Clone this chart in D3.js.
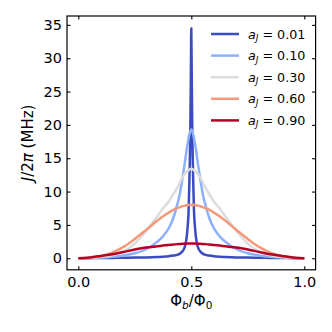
<!DOCTYPE html>
<html><head><meta charset="utf-8">
<script src="https://cdn.jsdelivr.net/npm/d3@7"></script>
<style>body{margin:0;background:#fff}</style>
</head><body><svg id="c" width="332" height="332"></svg>
<script>
const phi = [0, 0.05, 0.1, 0.15, 0.2, 0.25, 0.3, 0.35, 0.375, 0.4, 0.42, 0.44, 0.45, 0.46, 0.47, 0.475, 0.48, 0.484, 0.488, 0.491, 0.494, 0.496, 0.498, 0.5,
  0.502, 0.504, 0.506, 0.509, 0.512, 0.516, 0.52, 0.525, 0.53, 0.54, 0.55, 0.56, 0.58, 0.6, 0.625, 0.65, 0.7, 0.75, 0.8, 0.85, 0.9, 0.95, 1.0];
const J_a001 = [0, 0.015, 0.03, 0.05, 0.07, 0.1, 0.13, 0.19, 0.23, 0.3, 0.4, 0.55, 0.7, 1.0, 1.6, 2.2, 3.3, 4.8, 7.0, 10.8, 15.5, 20.5, 27, 34.5,
  27, 20.5, 15.5, 10.8, 7.0, 4.8, 3.3, 2.2, 1.6, 1.0, 0.7, 0.55, 0.4, 0.3, 0.23, 0.19, 0.13, 0.1, 0.07, 0.05, 0.03, 0.015, 0];
const J_a010 = [0, 0.03, 0.1, 0.22, 0.42, 0.75, 1.35, 2.5, 3.3, 4.5, 6.0, 8.3, 9.8, 11.8, 14.0, 15.2, 16.4, 17.2, 18.0, 18.5, 18.9, 19.1, 19.25, 19.3,
  19.25, 19.1, 18.9, 18.5, 18.0, 17.2, 16.4, 15.2, 14.0, 11.8, 9.8, 8.3, 6.0, 4.5, 3.3, 2.5, 1.35, 0.75, 0.42, 0.22, 0.1, 0.03, 0];
const J_a030 = [0, 0.04, 0.17, 0.45, 1.0, 2.2, 4.1, 6.3, 7.5, 8.5, 9.6, 10.7, 11.4, 12.1, 12.6, 12.8, 13.0, 13.1, 13.2, 13.3, 13.35, 13.38, 13.4, 13.4,
  13.4, 13.38, 13.35, 13.3, 13.2, 13.1, 13.0, 12.8, 12.6, 12.1, 11.4, 10.7, 9.6, 8.5, 7.5, 6.3, 4.1, 2.2, 1.0, 0.45, 0.17, 0.04, 0];
const J_a060 = [0, 0.08, 0.35, 0.85, 1.7, 2.9, 4.25, 5.65, 6.3, 6.85, 7.25, 7.55, 7.68, 7.8, 7.88, 7.92, 7.95, 7.97, 7.98, 7.99, 8.0, 8.0, 8.0, 8.0,
  8.0, 8.0, 8.0, 7.99, 7.98, 7.97, 7.95, 7.92, 7.88, 7.8, 7.68, 7.55, 7.25, 6.85, 6.3, 5.65, 4.25, 2.9, 1.7, 0.85, 0.35, 0.08, 0];
const J_a090 = [0, 0.12, 0.35, 0.6, 0.95, 1.3, 1.6, 1.8, 1.9, 2.0, 2.07, 2.12, 2.14, 2.16, 2.18, 2.19, 2.19, 2.2, 2.2, 2.2, 2.2, 2.2, 2.2, 2.2,
  2.2, 2.2, 2.2, 2.2, 2.2, 2.2, 2.19, 2.19, 2.18, 2.16, 2.14, 2.12, 2.07, 2.0, 1.9, 1.8, 1.6, 1.3, 0.95, 0.6, 0.35, 0.12, 0];
const aLabels = ["0.01", "0.10", "0.30", "0.60", "0.90"];
const seriesValues = [J_a001, J_a010, J_a030, J_a060, J_a090];
const colors = ["#3b4cc0", "#8db0fe", "#dddcdc", "#f49a7b", "#b40426"];
const xTicks = [0, 0.5, 1.0];
const yTicks = [0, 5, 10, 15, 20, 25, 30, 35];

const svg = d3.select("#c");
const L = 67, R = 315.6, T = 16, B = 269.8;
const x = d3.scaleLinear().domain([-0.05, 1.05]).range([L, R]);
const y = d3.scaleLinear().domain([-1.73, 36.33]).range([B, T]);
const font = "DejaVu Sans, sans-serif";

const line = d3.line().x((d, i) => x(phi[i])).y(d => y(d)).curve(d3.curveMonotoneX);
const g = svg.append("g");
seriesValues.forEach((vals, k) => {
  g.append("path").datum(vals).attr("d", line)
    .attr("fill", "none").attr("stroke", colors[k]).attr("stroke-width", 2.5)
    .attr("stroke-linejoin", "round");
});

// axes
const tk = 3.5;
const ax = svg.append("g").attr("transform", `translate(0,${B})`)
  .call(d3.axisBottom(x).tickValues(xTicks).tickFormat(d3.format(".1f")).tickSizeInner(-tk).tickSizeOuter(0).tickPadding(7));
const ay = svg.append("g").attr("transform", `translate(${L},0)`)
  .call(d3.axisLeft(y).tickValues(yTicks).tickFormat(d3.format("d")).tickSizeInner(-tk).tickSizeOuter(0).tickPadding(5));
const at = svg.append("g").attr("transform", `translate(0,${T})`)
  .call(d3.axisTop(x).tickValues(xTicks).tickFormat("").tickSizeInner(-tk).tickSizeOuter(0));
const ar = svg.append("g").attr("transform", `translate(${R},0)`)
  .call(d3.axisRight(y).tickValues(yTicks).tickFormat("").tickSizeInner(-tk).tickSizeOuter(0));
[ax, ay, at, ar].forEach(a => {
  a.select(".domain").remove();
  a.selectAll("line").attr("stroke", "#000").attr("stroke-width", 1.1);
  a.selectAll("text").attr("font-family", font).attr("font-size", 14.5).attr("fill", "#000");
});
svg.append("rect").attr("x", L).attr("y", T).attr("width", R - L).attr("height", B - T)
  .attr("fill", "none").attr("stroke", "#000").attr("stroke-width", 1.2);

// x label
const xl = svg.append("text").attr("x", x(0.5)).attr("y", 306).attr("text-anchor", "middle")
  .attr("font-family", font).attr("font-size", 15).attr("fill", "#000");
xl.append("tspan").text("Φ");
xl.append("tspan").attr("font-style", "italic").attr("font-size", 10.5).attr("dy", 3).text("b");
xl.append("tspan").attr("dy", -3).text("/Φ");
xl.append("tspan").attr("font-size", 10.5).attr("dy", 3).text("0");

// y label
const yl = svg.append("text").attr("transform", `translate(33,${(T + B) / 2}) rotate(-90)`)
  .attr("text-anchor", "middle").attr("font-family", font).attr("font-size", 15).attr("fill", "#000");
yl.append("tspan").attr("font-style", "italic").text("J");
yl.append("tspan").text("/2");
yl.append("tspan").attr("font-style", "italic").text("π");
yl.append("tspan").text(" (MHz)");

// legend
const lg = svg.append("g");
aLabels.forEach((lab, k) => {
  const yy = 34 + k * 21.6;
  lg.append("line").attr("x1", 211).attr("x2", 239).attr("y1", yy).attr("y2", yy)
    .attr("stroke", colors[k]).attr("stroke-width", 2.5);
  const t = lg.append("text").attr("x", 248).attr("y", yy + 4.5)
    .attr("font-family", font).attr("font-size", 12.7).attr("fill", "#000");
  t.append("tspan").attr("font-style", "italic").text("a");
  t.append("tspan").attr("font-style", "italic").attr("font-size", 8.9).attr("dy", 2.5).text("J");
  t.append("tspan").attr("dy", -2.5).text(" = " + lab);
});
</script>
</body></html>
